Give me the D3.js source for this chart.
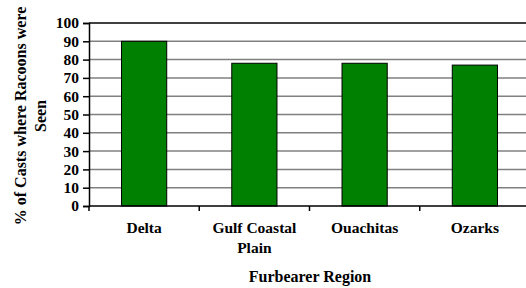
<!DOCTYPE html>
<html lang="en">
<head>
<meta charset="UTF-8"/>
<title>Racoon sightings by furbearer region</title>
<script src="https://d3js.org/d3.v7.min.js"></script>
<style>
  body { margin: 0; background: #fff; }
  svg { display: block; }
  text { font-family: "Liberation Serif", "Times New Roman", serif; font-weight: bold; fill: #000; }
</style>
</head>
<body>
<script>
    // Chart data
    var regions = ["Delta", "Gulf Coastal Plain", "Ouachitas", "Ozarks"];
    var percentSeen = [90, 78, 78, 77];
    var yTicks = [0, 10, 20, 30, 40, 50, 60, 70, 80, 90, 100];

    var w = 526;
    var h = 288;
    // plot area (right side runs past the window edge, like the original)
    var plotLeft = 89, plotTop = 23, plotBottom = 206, plotRight = 530;

    var svg = d3.select("body")
                .append("svg")
                .attr("width", w)
                .attr("height", h);

    var xScale = d3.scaleBand()
                   .domain(regions)
                   .range([plotLeft, plotRight])
                   .paddingInner(0.59)
                   .paddingOuter(0.295);

    var yScale = d3.scaleLinear()
                   .domain([0, 100])
                   .range([plotBottom, plotTop]);

    // gridlines
    svg.append("g")
       .selectAll("line")
       .data(yTicks.slice(1))
       .enter()
       .append("line")
       .attr("x1", plotLeft)
       .attr("x2", plotRight)
       .attr("y1", function(d) { return yScale(d); })
       .attr("y2", function(d) { return yScale(d); })
       .attr("stroke", function(d) { return d === 100 ? "#000" : "#808080"; })
       .attr("stroke-width", 1.5);

    // bars
    svg.selectAll("rect.bar")
       .data(percentSeen)
       .enter()
       .append("rect")
       .attr("class", "bar")
       .attr("x", function(d, i) { return xScale(regions[i]); })
       .attr("y", function(d) { return yScale(d); })
       .attr("width", xScale.bandwidth())
       .attr("height", function(d) { return yScale(0) - yScale(d); })
       .attr("fill", "#008000")
       .attr("stroke", "#000")
       .attr("stroke-width", 1);

    // y axis
    var yAxis = d3.axisLeft(yScale)
                  .tickValues(yTicks)
                  .tickSize(6)
                  .tickPadding(4);

    var gy = svg.append("g")
                .attr("transform", "translate(" + plotLeft + ",0)")
                .call(yAxis);
    gy.select(".domain").attr("stroke", "#000").attr("stroke-width", 1.5);
    gy.selectAll(".tick line").attr("stroke", "#000").attr("stroke-width", 1.5);
    gy.selectAll(".tick text")
      .attr("font-size", "15.5px")
      .attr("font-family", "Liberation Serif, serif")
      .attr("font-weight", "bold")
      .attr("fill", "#000");

    // x axis: line plus ticks at band boundaries
    var step = xScale.step();
    var boundaries = d3.range(regions.length + 1).map(function(i) { return plotLeft + i * step; });

    svg.append("line")
       .attr("x1", plotLeft).attr("x2", plotRight)
       .attr("y1", plotBottom).attr("y2", plotBottom)
       .attr("stroke", "#000").attr("stroke-width", 1.5);

    svg.append("g")
       .selectAll("line")
       .data(boundaries)
       .enter()
       .append("line")
       .attr("x1", function(d) { return d; })
       .attr("x2", function(d) { return d; })
       .attr("y1", plotBottom)
       .attr("y2", plotBottom + 5)
       .attr("stroke", "#000")
       .attr("stroke-width", 1.5);

    // category labels (Gulf Coastal Plain wraps)
    var labelLines = [["Delta"], ["Gulf Coastal", "Plain"], ["Ouachitas"], ["Ozarks"]];
    svg.selectAll("text.cat")
       .data(regions)
       .enter()
       .append("text")
       .attr("class", "cat")
       .attr("text-anchor", "middle")
       .attr("font-size", "15.5px")
       .attr("y", 233)
       .each(function(d, i) {
           var t = d3.select(this);
           labelLines[i].forEach(function(line, j) {
               t.append("tspan")
                .attr("x", xScale(d) + xScale.bandwidth() / 2)
                .attr("dy", j === 0 ? 0 : 20)
                .text(line);
           });
       });

    // x axis title
    svg.append("text")
       .attr("x", 310)
       .attr("y", 282)
       .attr("text-anchor", "middle")
       .attr("font-size", "16px")
       .text("Furbearer Region");

    // y axis title, two lines
    var yTitle = svg.append("text")
       .attr("transform", "rotate(-90)")
       .attr("text-anchor", "middle")
       .attr("font-size", "16px");
    yTitle.append("tspan").attr("x", -116).attr("y", 26).text("% of Casts where Racoons were");
    yTitle.append("tspan").attr("x", -116).attr("y", 46).text("Seen");
</script>
</body>
</html>
